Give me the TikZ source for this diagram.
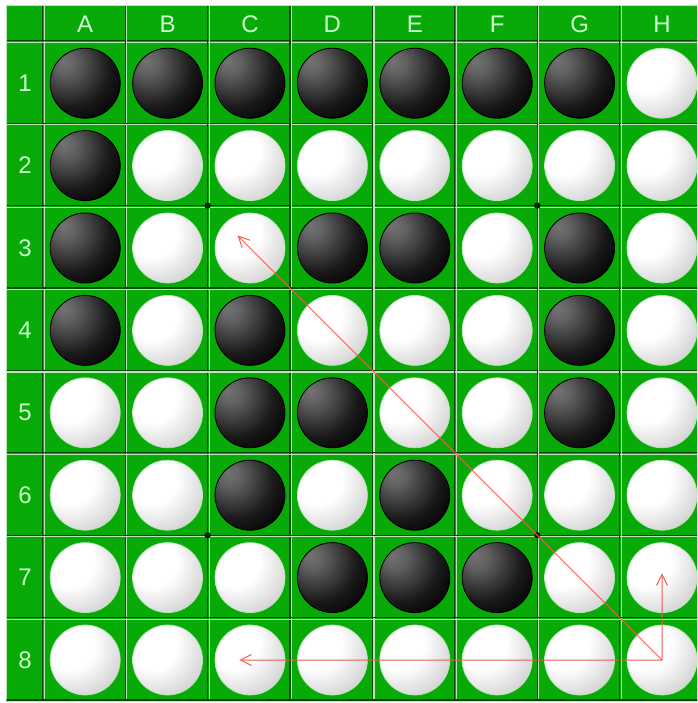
\documentclass[tikz,border=0pt]{standalone}
\usepackage{fontspec}
\setmainfont{Liberation Sans}
\usetikzlibrary{arrows.meta,calc}
\definecolor{boardgreen}{RGB}{8,170,8}
\definecolor{gridlight}{RGB}{185,230,185}
\definecolor{griddark}{RGB}{0,75,0}
\definecolor{labelgreen}{RGB}{205,255,205}
\definecolor{arrowred}{RGB}{235,95,80}
\pgfdeclareradialshading{blackstone}{\pgfpoint{-16bp}{16bp}}{color(0bp)=(black!55); color(8bp)=(black!62); color(28bp)=(black!90); color(42bp)=(black); color(90bp)=(black)}
\pgfdeclareradialshading{whitestone}{\pgfpoint{-14bp}{14bp}}{color(0bp)=(white); color(18bp)=(white); color(40bp)=(black!20); color(60bp)=(black!36); color(90bp)=(black!36)}
\tikzset{
  stoneB/.style={circle, minimum size=70pt, inner sep=0pt, shading=blackstone, draw=black, line width=0.9pt},
  stoneW/.style={circle, minimum size=70pt, inner sep=0pt, shading=whitestone, draw=white!70!boardgreen, line width=0.7pt},
  hdr/.style={text=labelgreen, font=\fontsize{24}{24}\selectfont, inner sep=0pt},
  darkline/.style={draw=griddark, line width=1.3pt},
  lightline/.style={draw=gridlight, line width=1.3pt},
  stardot/.style={circle, fill=black!85!green, minimum size=6.5pt, inner sep=0pt},
  mv/.style={draw=arrowred, line width=1pt, -{Straight Barb[length=11pt,width=11pt]}}
}
\begin{document}
\begin{tikzpicture}[x=1pt,y=-1pt]
\useasboundingbox (0,0) rectangle (697,703);
\fill[white] (0,0) rectangle (697,703);
\begin{scope}
\clip (0,0) rectangle (697,703);
\fill[boardgreen] (6,5) rectangle (704,701);
% grid lines
\foreach \i in {0,...,8} {
  \pgfmathsetmacro\xx{44+82.4*\i}
  \draw[darkline] (\xx-1.2,5) -- (\xx-1.2,701);
  \draw[lightline] (\xx+0.4,5) -- (\xx+0.4,701);
  \pgfmathsetmacro\yy{42+82.4*\i}
  \draw[darkline] (6,\yy-1.2) -- (704,\yy-1.2);
  \draw[lightline] (6,\yy+0.4) -- (704,\yy+0.4);
}
\draw[lightline] (6.6,5) -- (6.6,701);
\draw[lightline] (6,5.6) -- (704,5.6);
\draw[darkline] (6,700.4) -- (704,700.4);
% star points
\node[stardot] (dot1) at (207.6,205.6) {};
\node[stardot] (dot2) at (537.2,205.6) {};
\node[stardot] (dot3) at (207.6,535.2) {};
\node[stardot] (dot4) at (537.2,535.2) {};
% labels
\foreach \L [count=\i from 0] in {A,B,C,D,E,F,G,H} {
  \node[hdr] (col-\i) at (85.2+82.4*\i,24) {\L};
}
\foreach \n [count=\j from 0] in {1,...,8} {
  \node[hdr] (row-\j) at (25,83.2+82.4*\j) {\n};
}
% stones
\foreach \r [count=\j from 0] in {
  {B,B,B,B,B,B,B,W},
  {B,W,W,W,W,W,W,W},
  {B,W,W,B,B,W,B,W},
  {B,W,B,W,W,W,B,W},
  {W,W,B,B,W,W,B,W},
  {W,W,B,W,B,W,W,W},
  {W,W,W,B,B,B,W,W},
  {W,W,W,W,W,W,W,W}} {
  \foreach \s [count=\i from 0] in \r {
    \node[stone\s] (cell-\i-\j) at (85.2+82.4*\i,83.2+82.4*\j) {};
  }
}
% move arrows
\coordinate (origin) at (cell-7-7.center);
\coordinate (tipC3) at ($(cell-2-2.center)!0.5!(cell-2-2.north west)$);
\coordinate (tipC8) at ($(cell-2-7.center)!0.3!(cell-2-7.west)$);
\coordinate (tipH7) at ($(cell-7-6.center)!0.12!(cell-7-6.north)$);
\draw[mv] (origin) -- (tipC3);
\draw[mv] (origin) -- (tipC8);
\draw[mv] (origin) -- (tipH7);
\end{scope}
\end{tikzpicture}
\end{document}
